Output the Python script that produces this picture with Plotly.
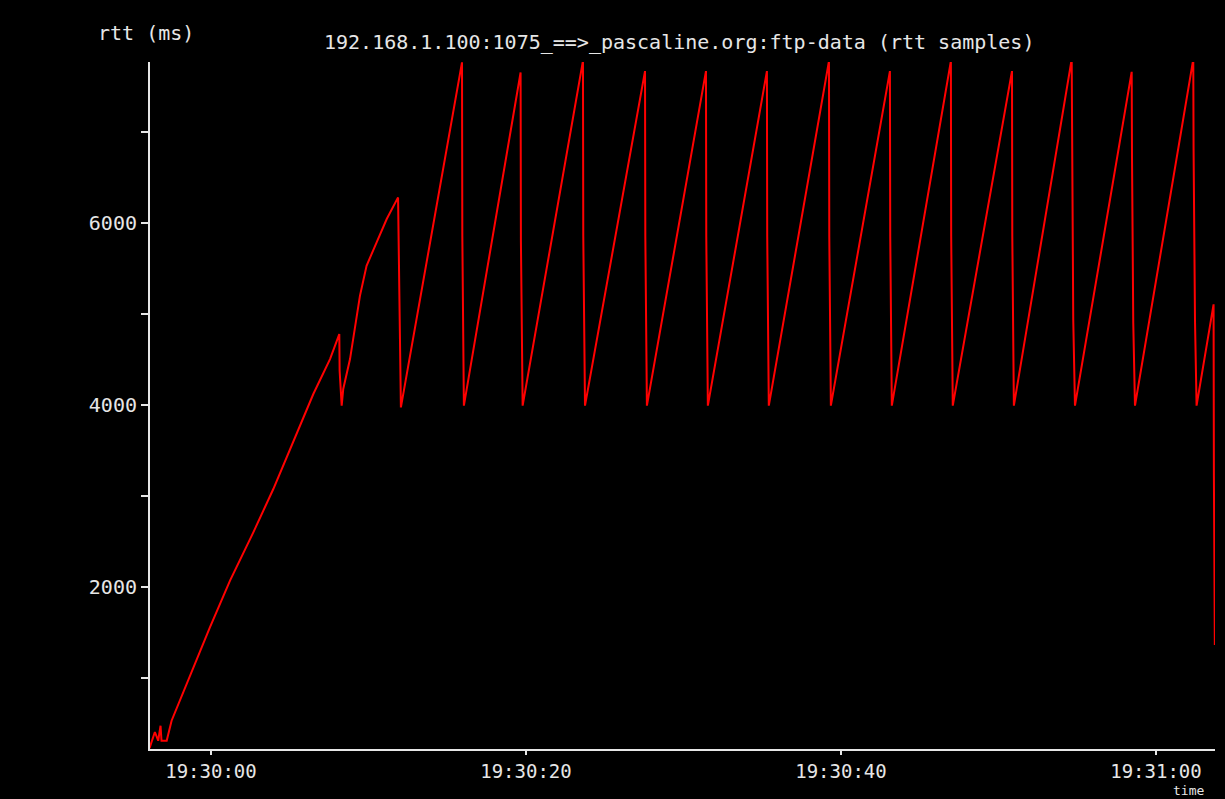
import pandas as pd
import plotly.graph_objects as go

# RTT samples: seconds relative to 19:30:00, rtt in ms (vertices)
t_sec = [
    -3.90, -3.56, -3.35, -3.20, -3.14, -2.81, -2.50, -1.33, -0.06, 1.21, 2.69, 3.96, 5.22, 6.50, 7.56,
    8.15, 8.17, 8.30, 8.40, 8.83, 9.46, 9.88, 10.52, 11.16, 11.88,
    11.95, 12.06,
    15.94, 15.96, 16.06,
    19.66, 19.68, 19.79,
    23.62, 23.64, 23.75,
    27.56, 27.58, 27.68,
    31.43, 31.45, 31.55,
    35.30, 35.32, 35.42,
    39.24, 39.26, 39.36,
    43.11, 43.13, 43.23,
    46.98, 47.00, 47.10,
    50.86, 50.88, 50.98,
    54.65, 54.67, 54.75, 54.86,
    58.46, 58.48, 58.56, 58.67,
    62.37, 62.39, 62.48, 62.58,
    63.66, 63.68, 63.74,
]
rtt_ms = [
    230, 407, 311, 476, 311, 311, 531, 1025, 1560, 2070, 2601, 3077, 3590, 4121, 4505,
    4780, 4377, 3993, 4176, 4505, 5200, 5531, 5788, 6044, 6282,
    5128, 3974,
    7766, 5860, 3993,
    7655, 5805, 3993,
    7783, 5860, 3993,
    7670, 5850, 3993,
    7670, 5850, 3993,
    7670, 5850, 3993,
    7780, 5850, 3993,
    7670, 5850, 3993,
    7780, 5850, 3993,
    7670, 5850, 3993,
    7800, 6824, 4934, 3993,
    7662, 6725, 4904, 3993,
    7800, 6813, 4927, 3993,
    5107, 3223, 1363,
]

base = pd.Timestamp("2004-01-01 19:30:00")
x_time = [base + pd.Timedelta(seconds=s) for s in t_sec]

tick_secs = [0, 20, 40, 60]
y_tickvals = [1000, 2000, 3000, 4000, 5000, 6000, 7000]
y_ticktext = ["", "2000", "", "4000", "", "6000", ""]

title_text = "192.168.1.100:1075_==>_pascaline.org:ftp-data (rtt samples)"
font_fam = "DejaVu Sans Mono"
fg = "#e6e6e6"

fig = go.Figure()
fig.add_trace(go.Scatter(
    x=x_time, y=rtt_ms, mode="lines",
    line=dict(color="#ff0000", width=2),
    showlegend=False,
))

fig.update_layout(
    width=1225, height=799,
    paper_bgcolor="black", plot_bgcolor="black",
    margin=dict(l=150, r=10, t=62, b=50),
    font=dict(family=font_fam, size=20, color=fg),
    xaxis=dict(
        type="date",
        range=[base + pd.Timedelta(seconds=-3.87), base + pd.Timedelta(seconds=63.75)],
        tickvals=[base + pd.Timedelta(seconds=s) for s in tick_secs],
        tickformat="%H:%M:%S",
        ticks="outside", ticklen=4, tickwidth=2, tickcolor=fg,
        showline=True, linecolor=fg, linewidth=2,
        showgrid=False, zeroline=False,
        tickfont=dict(family=font_fam, size=19, color=fg),
    ),
    yaxis=dict(
        range=[220, 7770],
        tickvals=y_tickvals, ticktext=y_ticktext,
        ticks="outside", ticklen=7, tickwidth=2, tickcolor=fg,
        showline=True, linecolor=fg, linewidth=2,
        showgrid=False, zeroline=False,
        tickfont=dict(family=font_fam, size=20, color=fg),
    ),
    annotations=[
        dict(text=title_text, xref="paper", yref="paper", x=0.497, y=1.029,
             xanchor="center", yanchor="middle", showarrow=False,
             font=dict(family=font_fam, size=20, color=fg)),
        dict(text="rtt (ms)", xref="paper", yref="paper", x=-0.004, y=1.042,
             xanchor="center", yanchor="middle", showarrow=False,
             font=dict(family=font_fam, size=20, color=fg)),
        dict(text="time", xref="paper", yref="paper", x=0.975, y=-0.0728,
             xanchor="center", yanchor="bottom", showarrow=False,
             borderpad=0,
             font=dict(family=font_fam, size=13, color=fg)),
    ],
)

fig.write_html(
    "out.html",
    config={"displayModeBar": False},
    post_script="document.body.style.margin='0';document.body.style.background='black';"
                "document.body.style.overflow='hidden';",
)
